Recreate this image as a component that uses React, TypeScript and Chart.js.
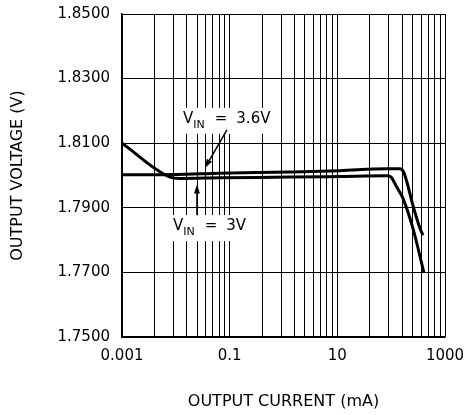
import React, { useEffect, useRef } from 'react';
import { Chart, registerables } from 'chart.js';

Chart.register(...registerables);

// ---- data ----
const xTickLabels = ['0.001', '0.1', '10', '1000'];
const xSectionStarts = [0.001, 0.1, 10];
const xGridFactors = [1, 4, 9, 16, 25, 36, 49, 64, 81];
const yMin = 1.75;
const yMax = 1.85;
const yStep = 0.02;

// V_IN = 3.6V
const current36 = [0.001, 0.01, 0.066, 1.3, 11, 80, 145, 170, 196, 253, 342, 389];
const vout36 = [1.8002, 1.8003, 1.8007, 1.8011, 1.8015, 1.8021, 1.8021, 1.8011, 1.798, 1.7908, 1.7837, 1.7815];

// V_IN = 3V
const current30 = [0.001, 0.0078, 0.012, 0.066, 1.3, 11, 83, 100, 117, 140, 165, 253, 405];
const vout30 = [1.81, 1.7995, 1.7991, 1.7993, 1.7995, 1.7997, 1.7999, 1.7995, 1.7975, 1.7952, 1.793, 1.7837, 1.77];

const annotations = [
  { value: '3.6V', at: [0.0136, 1.8163], from: [0.089, 1.8141], to: [0.0347, 1.8023] },
  { value: '3V', at: [0.00885, 1.7831], from: [0.0247, 1.7877], to: [0.0247, 1.7972] },
];

const FONT = '"DejaVu Sans", sans-serif';

const vinPlugin = {
  id: 'vinLabels',
  afterDatasetsDraw(chart: any) {
    const { ctx, scales } = chart;
    const xs = scales.x;
    const ys = scales.y;
    ctx.save();
    for (const a of annotations) {
      const x0 = xs.getPixelForValue(a.at[0]);
      const base = ys.getPixelForValue(a.at[1]);
      ctx.font = `15px ${FONT}`;
      const wV = ctx.measureText('V').width;
      const wEq = ctx.measureText('=').width;
      const wVal = ctx.measureText(a.value).width;
      ctx.font = `11px ${FONT}`;
      const wIN = ctx.measureText('IN').width;
      const gap1 = 10;
      const gap2 = 9;
      const total = wV + wIN + gap1 + wEq + gap2 + wVal;
      ctx.fillStyle = '#ffffff';
      ctx.fillRect(x0 - 4, base - 15, total + 8, 26);
      ctx.fillStyle = '#000000';
      ctx.textBaseline = 'alphabetic';
      ctx.textAlign = 'left';
      ctx.font = `15px ${FONT}`;
      ctx.fillText('V', x0, base);
      ctx.font = `11px ${FONT}`;
      ctx.fillText('IN', x0 + wV, base + 5);
      ctx.font = `15px ${FONT}`;
      const xEq = x0 + wV + wIN + gap1;
      ctx.fillText('=', xEq, base);
      ctx.fillText(a.value, xEq + wEq + gap2, base);

      // arrow
      const fx = xs.getPixelForValue(a.from[0]);
      const fy = ys.getPixelForValue(a.from[1]);
      const tx = xs.getPixelForValue(a.to[0]);
      const ty = ys.getPixelForValue(a.to[1]);
      const ang = Math.atan2(ty - fy, tx - fx);
      const hl = 9;
      const hw = 3;
      ctx.strokeStyle = '#000000';
      ctx.lineWidth = 1.5;
      ctx.beginPath();
      ctx.moveTo(fx, fy);
      ctx.lineTo(tx - Math.cos(ang) * hl * 0.6, ty - Math.sin(ang) * hl * 0.6);
      ctx.stroke();
      const bx = tx - Math.cos(ang) * hl;
      const by = ty - Math.sin(ang) * hl;
      ctx.beginPath();
      ctx.moveTo(tx, ty);
      ctx.lineTo(bx + Math.sin(ang) * hw, by - Math.cos(ang) * hw);
      ctx.lineTo(bx - Math.sin(ang) * hw, by + Math.cos(ang) * hw);
      ctx.closePath();
      ctx.fill();
    }
    ctx.restore();
  },
};

export default function App() {
  const ref = useRef<HTMLCanvasElement | null>(null);

  useEffect(() => {
    if (!ref.current) return;
    const chart = new Chart(ref.current, {
      type: 'line',
      data: {
        datasets: [
          {
            label: 'VIN = 3.6V',
            data: current36.map((c, i) => ({ x: c, y: vout36[i] })),
            borderColor: '#000000',
            borderWidth: 3,
            pointRadius: 0,
            cubicInterpolationMode: 'monotone',
            fill: false,
          },
          {
            label: 'VIN = 3V',
            data: current30.map((c, i) => ({ x: c, y: vout30[i] })),
            borderColor: '#000000',
            borderWidth: 3,
            pointRadius: 0,
            cubicInterpolationMode: 'monotone',
            fill: false,
          },
        ],
      },
      options: {
        animation: false,
        responsive: false,
        devicePixelRatio: 1,
        layout: { padding: { top: 14, left: 0, right: 0, bottom: 0 } },
        plugins: {
          legend: { display: false },
          tooltip: { enabled: false },
        },
        scales: {
          x: {
            type: 'logarithmic',
            min: 0.001,
            max: 1000,
            afterBuildTicks: (scale: any) => {
              const ticks: { value: number }[] = [];
              for (const s of xSectionStarts) {
                for (const f of xGridFactors) ticks.push({ value: s * f });
              }
              ticks.push({ value: 1000 });
              scale.ticks = ticks;
            },
            afterFit: (scale: any) => {
              scale.height = 415 - 337;
              scale.paddingRight = 19;
              scale.paddingLeft = 0;
            },
            grid: { color: '#000000', lineWidth: 1, drawTicks: false },
            border: { color: '#000000', width: 1.5 },
            ticks: {
              autoSkip: false,
              maxRotation: 0,
              padding: 10,
              color: '#000000',
              font: { family: FONT, size: 15 },
              callback: (v: any) => {
                const val = Number(v);
                const hit = xTickLabels.find((t) => Math.abs(val / Number(t) - 1) < 1e-6);
                return hit ?? '';
              },
            },
            title: {
              display: true,
              text: 'OUTPUT CURRENT (mA)',
              color: '#000000',
              font: { family: FONT, size: 16 },
              padding: { top: 4, bottom: 4 },
            },
          },
          y: {
            type: 'linear',
            min: yMin,
            max: yMax,
            afterFit: (scale: any) => {
              scale.width = 122;
              scale.paddingTop = 0;
              scale.paddingBottom = 0;
            },
            grid: { color: '#000000', lineWidth: 1, drawTicks: false },
            border: { color: '#000000', width: 1.5 },
            ticks: {
              stepSize: yStep,
              padding: 12,
              color: '#000000',
              font: { family: FONT, size: 15 },
              callback: (v: any) => Number(v).toFixed(4),
            },
            title: {
              display: true,
              text: 'OUTPUT VOLTAGE (V)',
              color: '#000000',
              font: { family: FONT, size: 16 },
              padding: { top: 8, bottom: 0 },
            },
          },
        },
      } as any,
      plugins: [vinPlugin],
    });
    return () => chart.destroy();
  }, []);

  return (
    <div style={{ position: 'fixed', left: 0, top: 0, width: 464, height: 415, background: '#ffffff' }}>
      <canvas ref={ref} width={464} height={415} />
    </div>
  );
}
